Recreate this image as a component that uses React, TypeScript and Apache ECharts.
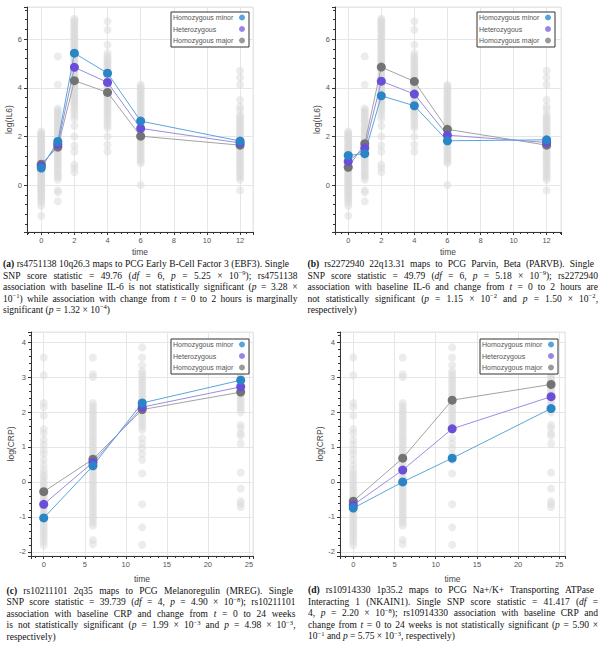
import React, { useEffect, useRef } from 'react';
import * as echarts from 'echarts';

// ---------- categories ----------
const GENOTYPES = ['Homozygous minor', 'Heterozygous', 'Homozygous major'];
const IL6_TIMES = [0, 1, 2, 4, 6, 12];
const CRP_TIMES = [0, 6, 12, 24];

// ---------- individual observations, log(IL6) (panels a, b) ----------
const il6T0 = [2.2, 2.13, 2.06, 2.0, 1.94, 1.88, 1.81, 1.75, 1.69, 1.62, 1.56, 1.5, 1.43, 1.37, 1.3, 1.24, 1.17, 1.11, 1.04, 0.98, 0.91, 0.85, 0.79, 0.72, 0.66, 0.6, 0.53, 0.47, 0.4, 0.34, 0.27, 0.21, 0.14, 0.07, 0.01, -0.06, -0.13, -0.19, -0.26, -0.33, -0.4, -0.47, -0.55, -0.63, -0.73, -0.86, -1.26];
const il6T1 = [5.29, 4.12, 3.15, 3.07, 3.0, 2.92, 2.85, 2.77, 2.7, 2.62, 2.55, 2.47, 2.39, 2.32, 2.24, 2.17, 2.09, 2.02, 1.94, 1.87, 1.79, 1.72, 1.64, 1.57, 1.49, 1.42, 1.34, 1.27, 1.19, 1.1, 1.02, 0.93, 0.85, 0.75, 0.66, 0.57, 0.46, 0.39, 0.32, 0.22, -0.22, -0.3, -0.67];
const il6T2 = [6.84, 6.77, 6.69, 6.62, 6.54, 6.47, 6.39, 6.32, 6.24, 6.17, 6.09, 6.02, 5.94, 5.87, 5.79, 5.72, 5.64, 5.57, 5.49, 5.42, 5.34, 5.27, 5.19, 5.12, 5.04, 4.97, 4.89, 4.82, 4.74, 4.67, 4.59, 4.52, 4.44, 4.37, 4.29, 4.22, 4.14, 4.07, 3.99, 3.92, 3.84, 3.77, 3.69, 3.62, 3.54, 3.46, 3.38, 3.29, 3.19, 3.09, 2.98, 2.86, 2.72, 2.43, 2.0, 1.62, 1.38, 0.84, 0.7, 0.53];
const il6T4 = [6.73, 6.38, 5.77, 5.42, 5.29, 5.2, 5.12, 5.03, 4.95, 4.86, 4.78, 4.69, 4.61, 4.52, 4.44, 4.35, 4.27, 4.18, 4.1, 4.01, 3.93, 3.84, 3.76, 3.67, 3.58, 3.5, 3.41, 3.33, 3.24, 3.15, 3.06, 2.97, 2.88, 2.78, 2.67, 2.56, 2.45, 2.34, 2.0, 1.66, 1.38];
const il6T6 = [4.12, 4.04, 3.96, 3.87, 3.79, 3.71, 3.62, 3.54, 3.46, 3.37, 3.29, 3.2, 3.12, 3.03, 2.95, 2.86, 2.78, 2.69, 2.61, 2.52, 2.44, 2.35, 2.27, 2.18, 2.1, 2.01, 1.93, 1.84, 1.76, 1.67, 1.59, 1.5, 1.41, 1.32, 1.24, 1.15, 1.06, 0.98, 0.9, 0.0];
const il6T12 = [4.7, 4.42, 4.12, 3.5, 3.23, 3.1, 2.89, 2.81, 2.72, 2.64, 2.55, 2.47, 2.38, 2.3, 2.21, 2.13, 2.04, 1.96, 1.87, 1.79, 1.7, 1.62, 1.53, 1.45, 1.36, 1.28, 1.19, 1.11, 1.02, 0.94, 0.85, 0.77, 0.68, 0.59, 0.5, 0.4, 0.31, 0.22, -0.22];
const il6Obs = [il6T0, il6T1, il6T2, il6T4, il6T6, il6T12];

// ---------- individual observations, log(CRP) (panels c, d) ----------
const crpT0 = [3.56, 3.05, 2.26, 2.14, 1.9, 1.51, 1.39, 1.2, 1.06, 0.91, 0.8, 0.63, 0.48, 0.34, 0.24, 0.16, 0.08, 0.0, -0.08, -0.16, -0.23, -0.31, -0.39, -0.46, -0.54, -0.62, -0.7, -0.77, -0.85, -0.93, -1.01, -1.08, -1.16, -1.24, -1.32, -1.39, -1.47, -1.55, -1.63, -1.71, -1.81];
const crpT6 = [3.56, 3.08, 3.0, 2.26, 2.18, 2.1, 2.02, 1.94, 1.86, 1.78, 1.7, 1.62, 1.54, 1.46, 1.38, 1.3, 1.22, 1.14, 1.06, 0.98, 0.9, 0.82, 0.74, 0.66, 0.58, 0.5, 0.42, 0.34, 0.26, 0.18, 0.1, 0.02, -0.06, -0.14, -0.22, -0.3, -0.38, -0.46, -0.54, -0.62, -0.7, -0.78, -0.86, -0.94, -1.02, -1.1, -1.18, -1.25, -1.66, -1.78];
const crpT12 = [3.85, 3.56, 3.34, 3.17, 3.09, 3.01, 2.93, 2.85, 2.77, 2.69, 2.61, 2.53, 2.45, 2.37, 2.29, 2.21, 2.13, 2.05, 1.97, 1.89, 1.81, 1.73, 1.65, 1.57, 1.49, 1.25, 1.1, 0.96, 0.8, 0.63, 0.24, -0.64, -1.3, -1.8];
const crpT24 = [3.1, 3.03, 2.95, 2.88, 2.8, 2.72, 2.64, 2.56, 2.48, 2.4, 2.32, 2.24, 2.16, 2.08, 1.99, 1.63, 1.54, 1.39, 1.32, 1.1, 0.27, -0.19, -0.55, -0.63, -0.72];
const crpObs = [crpT0, crpT6, crpT12, crpT24];

// ---------- genotype group means ----------
const ebf3Minor = [0.7, 1.79, 5.42, 4.6, 2.63, 1.81];
const ebf3Het = [0.78, 1.68, 4.84, 4.22, 2.33, 1.73];
const ebf3Major = [0.86, 1.56, 4.29, 3.81, 2.01, 1.64];
const parvbMinor = [1.22, 1.29, 3.67, 3.26, 1.82, 1.86];
const parvbHet = [0.97, 1.52, 4.27, 3.74, 2.05, 1.75];
const parvbMajor = [0.73, 1.7, 4.85, 4.26, 2.29, 1.64];
const mregMinor = [-1.03, 0.46, 2.26, 2.91];
const mregHet = [-0.64, 0.56, 2.14, 2.72];
const mregMajor = [-0.28, 0.65, 2.07, 2.57];
const nkain1Minor = [-0.75, 0.0, 0.68, 2.1];
const nkain1Het = [-0.66, 0.34, 1.52, 2.44];
const nkain1Major = [-0.55, 0.68, 2.34, 2.79];

// ---------- captions ----------
const capA = [
  '*(a)* rs4751138 10q26.3 maps to PCG Early B-Cell Factor 3 (EBF3). Single',
  'SNP score statistic = 49.76 (_df_ = 6, _p_ = 5.25 × 10^{−9}); rs4751138',
  'association with baseline IL-6 is not statistically significant (_p_ = 3.28 ×',
  '10^{−1}) while association with change from _t_ = 0 to 2 hours is marginally',
  'significant (_p_ = 1.32 × 10^{−4})',
];
const capB = [
  '*(b)* rs2272940 22q13.31 maps to PCG Parvin, Beta (PARVB). Single',
  'SNP score statistic = 49.79 (_df_ = 6, _p_ = 5.18 × 10^{−9}); rs2272940',
  'association with baseline IL-6 and change from _t_ = 0 to 2 hours are',
  'not statistically significant (_p_ = 1.15 × 10^{−2} and _p_ = 1.50 × 10^{−2},',
  'respectively)',
];
const capC = [
  '*(c)* rs10211101 2q35 maps to PCG Melanoregulin (MREG). Single',
  'SNP score statistic = 39.739 (_df_ = 4, _p_ = 4.90 × 10^{−8}); rs10211101',
  'association with baseline CRP and change from _t_ = 0 to 24 weeks',
  'is not statistically significant (_p_ = 1.99 × 10^{−3} and _p_ = 4.98 × 10^{−3},',
  'respectively)',
];
const capD = [
  '*(d)* rs10914330 1p35.2 maps to PCG Na+/K+ Transporting ATPase',
  'Interacting 1 (NKAIN1). Single SNP score statistic = 41.417 (_df_ =',
  '4, _p_ = 2.20 × 10^{−8}); rs10914330 association with baseline CRP and',
  'change from _t_ = 0 to 24 weeks is not statistically significant (_p_ = 5.90 ×',
  '10^{−1} and _p_ = 5.75 × 10^{−3}, respectively)',
];

// ---------- styles ----------
const MARKER = ['#2a85c7', '#6a4ed8', '#737373'];
const LINE = ['#5aa6d8', '#9a8de2', '#a3a3a3'];
const LEGEND_DOT = ['#55a4da', '#9884e6', '#9a9a9a'];
const SANS = 'Liberation Sans, Arial, sans-serif';
const SERIF = 'Liberation Serif, Times New Roman, serif';
const GRID_COLOR = '#e6e6e6';
const AXIS_COLOR = '#333';
const BASE = 9.5;
const SUP = 6.6;

type Seg = { t: string; b: boolean; i: boolean; s: boolean };

function parseLine(line: string): Seg[][] {
  const words: Seg[][] = [];
  let cur: Seg[] = [];
  let b = false, it = false, sup = false;
  let buf = '';
  const flush = () => {
    if (buf) { cur.push({ t: buf, b, i: it, s: sup }); buf = ''; }
  };
  for (let k = 0; k < line.length; k++) {
    const c = line[k];
    if (c === '*') { flush(); b = !b; }
    else if (c === '_') { flush(); it = !it; }
    else if (c === '^' && line[k + 1] === '{') { flush(); sup = true; k++; }
    else if (c === '}' && sup) { flush(); sup = false; }
    else if (c === ' ' && !sup) { flush(); if (cur.length) words.push(cur); cur = []; }
    else buf += c;
  }
  flush();
  if (cur.length) words.push(cur);
  return words;
}

function captionGraphics(lines: string[], left: number, firstRight: number, right: number, y0: number, gap: number) {
  const ctx = document.createElement('canvas').getContext('2d')!;
  const fontOf = (s: Seg) => `${s.i ? 'italic ' : ''}${s.b ? 'bold ' : ''}${s.s ? SUP : BASE}px ${SERIF}`;
  const w = (s: Seg) => { ctx.font = fontOf(s); return ctx.measureText(s.t).width; };
  ctx.font = `${BASE}px ${SERIF}`;
  const spaceW = ctx.measureText(' ').width;
  const els: any[] = [];
  lines.forEach((line, li) => {
    const words = parseLine(line);
    const widths = words.map((wd) => wd.reduce((a, s) => a + w(s), 0));
    const total = widths.reduce((a, v) => a + v, 0);
    const r = li === 0 ? firstRight : right;
    const isLast = li === lines.length - 1;
    let g = spaceW;
    if (!isLast && words.length > 1) g = Math.max(1.2, (r - left - total) / (words.length - 1));
    let x = left;
    const y = y0 + li * gap;
    words.forEach((wd, wi) => {
      let sx = x;
      wd.forEach((s) => {
        els.push({
          type: 'text', x: sx, y: s.s ? y - 3.2 : y, silent: true,
          style: {
            text: s.t, fontFamily: SERIF, fontSize: s.s ? SUP : BASE, lineHeight: s.s ? 6 : 9,
            fontWeight: s.b ? 'bold' : 'normal', fontStyle: s.i ? 'italic' : 'normal',
            fill: '#111', align: 'left', verticalAlign: 'middle',
          },
        });
        sx += w(s);
      });
      x += widths[wi] + g;
    });
  });
  return els;
}

const panels = [
  { grid: { left: 27, top: 7, width: 226, height: 225 }, x: [-0.86, 12.78], xi: 2, y: [-1.93, 7.32], yi: 2,
    yName: 'log(IL6)', yGap: 12.5, xGap: 15, times: IL6_TIMES, obs: il6Obs, means: [ebf3Minor, ebf3Het, ebf3Major], legend: [171, 12] },
  { grid: { left: 335, top: 7, width: 226, height: 225 }, x: [-0.8, 12.87], xi: 2, y: [-1.93, 7.32], yi: 2,
    yName: 'log(IL6)', yGap: 13, xGap: 15, times: IL6_TIMES, obs: il6Obs, means: [parvbMinor, parvbHet, parvbMajor], legend: [477, 12] },
  { grid: { left: 31, top: 332, width: 222, height: 224 }, x: [-1.55, 25.5], xi: 5, y: [-2.12, 4.29], yi: 1,
    yName: 'log(CRP)', yGap: 15.5, xGap: 18, times: CRP_TIMES, obs: crpObs, means: [mregMinor, mregHet, mregMajor], legend: [171, 339] },
  { grid: { left: 340, top: 332, width: 225, height: 224 }, x: [-1.61, 25.69], xi: 5, y: [-2.12, 4.29], yi: 1,
    yName: 'log(CRP)', yGap: 14.5, xGap: 18, times: CRP_TIMES, obs: crpObs, means: [nkain1Minor, nkain1Het, nkain1Major], legend: [480, 339] },
];

const intLabel = (v: number) => (Math.abs(v - Math.round(v)) < 1e-6 ? String(Math.round(v)) : '');

function axisCommon(min: number, max: number, interval: number) {
  return {
    type: 'value', min, max, minInterval: interval, maxInterval: interval, splitNumber: 6,
    axisLine: { show: true, onZero: false, lineStyle: { color: AXIS_COLOR, width: 1 } },
    axisTick: { show: true, length: 3, lineStyle: { color: AXIS_COLOR } },
    minorTick: { show: true, splitNumber: 5, length: 2, lineStyle: { color: AXIS_COLOR } },
    splitLine: { show: true, lineStyle: { color: GRID_COLOR, width: 1 } },
    minorSplitLine: { show: false },
    nameTextStyle: { fontFamily: SANS, fontSize: 8.5, color: '#444' },
  };
}

export default function App() {
  const ref = useRef<HTMLDivElement>(null);
  useEffect(() => {
    if (!ref.current) return;
    const chart = echarts.init(ref.current, undefined, { renderer: 'svg' });
    const series: any[] = [];
    panels.forEach((p, i) => {
      const pts: number[][] = [];
      p.times.forEach((t, k) => p.obs[k].forEach((v) => pts.push([t, v])));
      series.push({
        type: 'scatter', name: 'observations', xAxisIndex: i, yAxisIndex: i, data: pts, symbol: 'circle',
        symbolSize: 8, itemStyle: { color: '#d9d9d9', opacity: 0.5 }, silent: true, z: 1,
      });
      [2, 1, 0].forEach((g) => {
        series.push({
          type: 'line', name: GENOTYPES[g], xAxisIndex: i, yAxisIndex: i,
          data: p.times.map((t, k) => [t, p.means[g][k]]),
          symbol: 'circle', symbolSize: 9, showSymbol: true, silent: true, z: 3,
          itemStyle: { color: MARKER[g] }, lineStyle: { color: LINE[g], width: 1 },
          emphasis: { disabled: true },
        });
      });
    });
    const option: any = {
      animation: false,
      grid: panels.map((p) => ({ ...p.grid, show: true, borderColor: GRID_COLOR, borderWidth: 1, backgroundColor: 'transparent' })),
      xAxis: panels.map((p, i) => ({
        ...axisCommon(p.x[0], p.x[1], p.xi), gridIndex: i,
        name: 'time', nameLocation: 'middle', nameGap: p.xGap,
        axisLabel: { margin: 4, fontSize: 7.5, color: '#555', fontFamily: SANS, formatter: intLabel, showMinLabel: false, showMaxLabel: false },
      })),
      yAxis: panels.map((p, i) => ({
        ...axisCommon(p.y[0], p.y[1], p.yi), gridIndex: i,
        name: p.yName, nameLocation: 'middle', nameGap: p.yGap, nameRotate: 90,
        axisLabel: { margin: 5, fontSize: 7.5, color: '#555', fontFamily: SANS, formatter: intLabel, showMinLabel: false, showMaxLabel: false },
      })),
      legend: panels.map((p) => ({
        orient: 'vertical', left: p.legend[0], top: p.legend[1], align: 'right',
        itemWidth: 6, itemHeight: 8, itemGap: 4.5, padding: [2, 4, 3, 2],
        borderColor: '#333', borderWidth: 1, backgroundColor: '#fff', selectedMode: false,
        formatter: (n: string) => `{a|${n}}`,
        textStyle: {
          fontSize: 7, color: '#555', fontFamily: SANS,
          rich: { a: { width: 61, align: 'left', fontSize: 7, color: '#555', fontFamily: SANS } },
        },
        data: GENOTYPES.map((g, k) => ({ name: g, icon: 'circle', itemStyle: { color: LEGEND_DOT[k] } })),
      })),
      series,
      graphic: [
        ...captionGraphics(capA, 3, 289, 297.5, 264, 11.5),
        ...captionGraphics(capB, 307.5, 594, 598, 264, 11.5),
        ...captionGraphics(capC, 6.5, 293, 295.5, 590.8, 11.5),
        ...captionGraphics(capD, 308, 594, 598, 590.3, 11.5),
      ],
    };
    chart.setOption(option);
    return () => chart.dispose();
  }, []);
  return <div ref={ref} style={{ position: 'fixed', left: 0, top: 0, width: 599, height: 648, background: '#fff' }} />;
}
